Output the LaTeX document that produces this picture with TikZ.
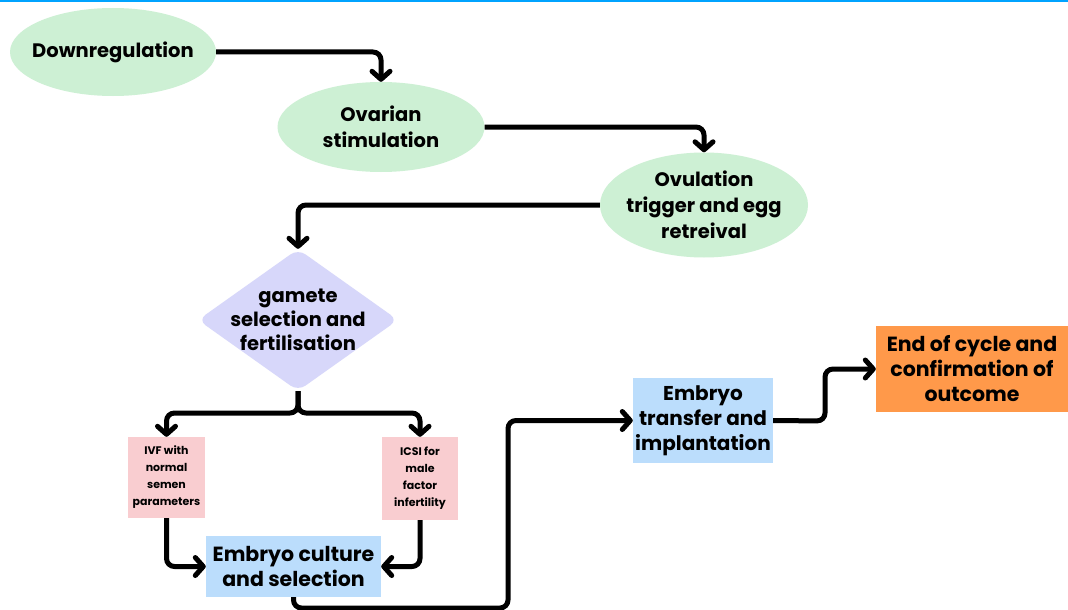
\documentclass[tikz,border=0pt]{standalone}
\usepackage{fontspec}
\setmainfont{Poppins}
\usepackage{xcolor}
\usepackage{tikz}
\usetikzlibrary{shapes,arrows,positioning,calc,arrows.meta}

\definecolor{stepgreen}{HTML}{CDF0D4}
\definecolor{steplilac}{HTML}{D7D7FA}
\definecolor{steppink}{HTML}{F9CDD0}
\definecolor{stepblue}{HTML}{BBDDFC}
\definecolor{steporange}{HTML}{FF994A}
\definecolor{topline}{HTML}{00A3FF}

\begin{document}
\begin{tikzpicture}[x=1pt,y=-1pt,
    oval/.style={ellipse, fill=stepgreen, inner xsep=-30pt, inner ysep=-15pt, align=center,
        font=\fontsize{19.5}{26}\selectfont\bfseries},
    choice/.style={diamond, fill=steplilac, inner xsep=-30pt, inner ysep=-15pt, align=center,
        rounded corners=9pt, font=\fontsize{19.5}{24}\selectfont\bfseries},
    option/.style={rectangle, fill=steppink, inner sep=0pt, align=center,
        font=\fontsize{11}{17}\selectfont\bfseries},
    stage/.style={rectangle, fill=stepblue, inner sep=0pt, align=center,
        font=\fontsize{20.5}{25}\selectfont\bfseries},
    flow/.style={line width=5pt, rounded corners=8pt, line join=round,
        -{Straight Barb[length=8pt,width=18pt,line cap=round,line join=round]}}]
    \useasboundingbox (0,0) rectangle (1068,610);
    \fill[white] (0,0) rectangle (1068,610);
    \fill[topline] (0,0) rectangle (1068,2.2);
    % stages of the cycle
    \node[oval, minimum width=206pt, minimum height=88pt] (down) at (113,52) {Downregulation};
    \node[oval, minimum width=207pt, minimum height=90pt] (ovar) at (381,127) {Ovarian\\stimulation};
    \node[oval, minimum width=208pt, minimum height=105pt] (ovul) at (704,205) {Ovulation\\trigger and egg\\retreival};
    \node[choice, minimum width=200pt, minimum height=142pt] (gam) at (298,320) {gamete\\selection and\\fertilisation};
    \node[option, minimum width=77pt, minimum height=81pt] (ivf) at (166.5,477.5) {IVF with\\normal\\semen\\parameters};
    \node[option, minimum width=76pt, minimum height=83pt] (icsi) at (420,478.5) {ICSI for\\male\\factor\\infertility};
    \node[stage, minimum width=175pt, minimum height=61pt] (cult) at (293.5,566.5) {Embryo culture\\and selection};
    \node[stage, font=\fontsize{20}{25}\selectfont\bfseries, minimum width=140pt, minimum height=85pt] (trans) at (703,420.5) {Embryo\\transfer and\\implantation};
    \node[stage, fill=steporange, minimum width=192pt, minimum height=86pt] (end) at (972,369) {End of cycle and\\confirmation of\\outcome};
    % connectors
    \coordinate (split) at (298,413);
    \coordinate (low) at (508,608);
    \coordinate (bend) at (825,421);
    \draw[flow] (down.east) -| (ovar.north);
    \draw[flow] (ovar.east) -| (ovul.north);
    \draw[flow] (ovul.west) -| (gam.north);
    \draw[flow] (gam.south) -- (split) -| (ivf.north);
    \draw[flow] (gam.south) -- (split) -| (icsi.north);
    \draw[flow] (ivf.south) |- (cult.west);
    \draw[flow] (icsi.south) |- (cult.east);
    \draw[flow] (cult.south) |- (low) |- (trans.west);
    \draw[flow] (trans.east) -- (bend) |- (end.west);
\end{tikzpicture}
\end{document}
